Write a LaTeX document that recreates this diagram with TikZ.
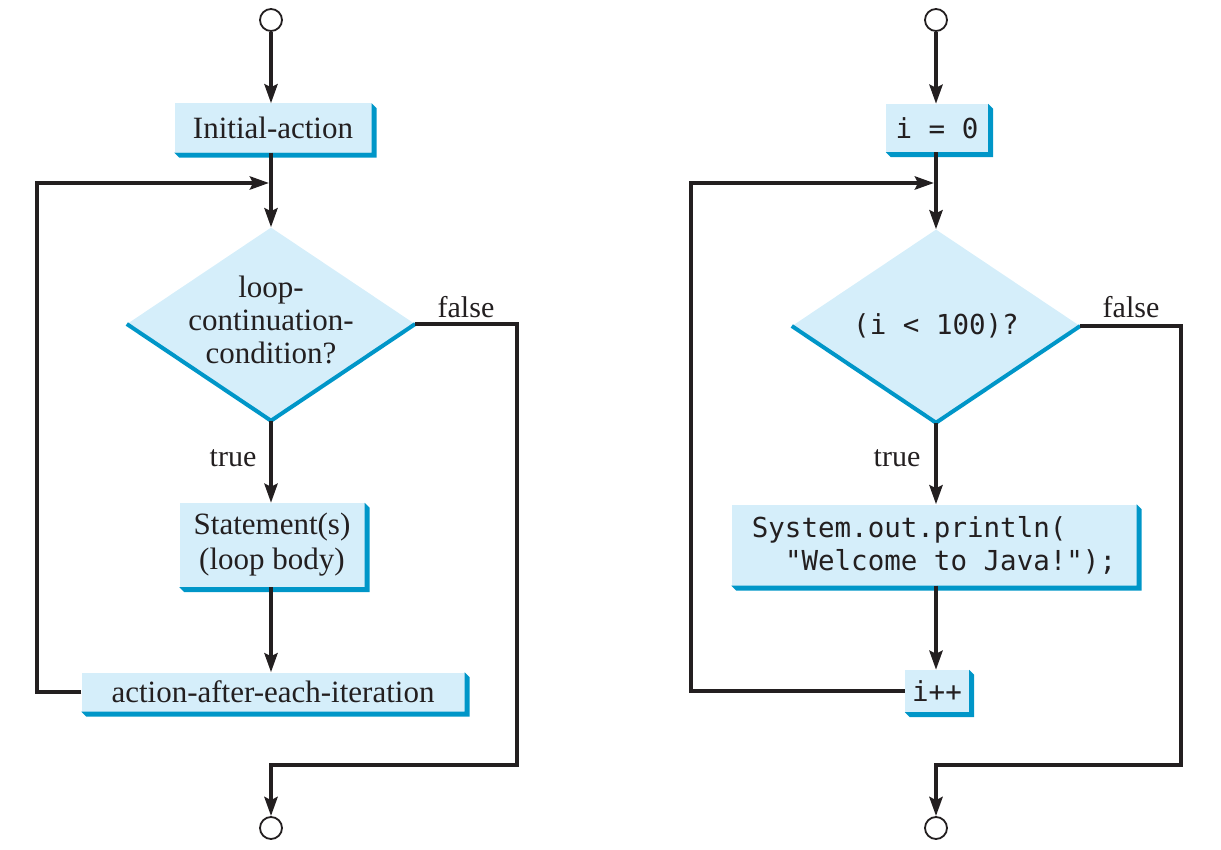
\documentclass[tikz,border=0pt]{standalone}
\usepackage{fontspec}
\setmainfont{Liberation Serif}
\setmonofont{DejaVu Sans Mono}
\usetikzlibrary{arrows.meta,shapes.geometric}
\definecolor{boxfill}{RGB}{213,238,250}
\definecolor{shadeblue}{RGB}{0,150,200}
\definecolor{ink}{RGB}{35,31,32}
\newcommand\boxshade[1]{%
  \fill[shadeblue] (#1.north east) -- ([shift={(5,5)}]#1.north east) -- ([shift={(5,5)}]#1.south east)
    -- ([shift={(5,5)}]#1.south west) -- (#1.south west) -- (#1.south east) -- cycle;}
\begin{document}
\begin{tikzpicture}[x=1pt,y=-1pt,
  every node/.style={text=ink},
  fbox/.style={rectangle,fill=boxfill,inner sep=0pt,align=center,font=\fontsize{31}{35}\selectfont},
  mbox/.style={rectangle,fill=boxfill,inner sep=0pt,align=center,font=\fontsize{27.5}{33}\ttfamily},
  dec/.style={diamond,fill=boxfill,inner sep=0pt,minimum width=288pt,minimum height=193pt},
  dtext/.style={align=center,inner sep=0pt},
  term/.style={circle,draw=ink,line width=1.8pt,minimum size=22pt,inner sep=0pt},
  arr/.style={draw=ink,line width=4pt,-{Stealth[length=19pt,width=13pt,inset=3pt]}},
  lab/.style={font=\fontsize{30}{34}\selectfont}]
\useasboundingbox (0,0) rectangle (1221,850);

% ---------- left flowchart ----------
\node[term] (s1) at (271,20) {};
\node[fbox,minimum width=197pt,minimum height=49pt] (init) at (273,128) {Initial-action};
\boxshade{init}
\node[dec] (d1) at (271,324) {};
\draw[shadeblue,line width=4pt] (d1.west) -- (d1.south) -- (d1.east);
\node[dtext,font=\fontsize{31}{33}\selectfont] (d1t) at (271,320) {loop-\\continuation-\\condition?};
\node[fbox,minimum width=185pt,minimum height=84pt] (stmt) at (272,545) {Statement(s)\\(loop body)};
\boxshade{stmt}
\node[fbox,minimum width=383pt,minimum height=39pt] (act) at (273,692) {action-after-each-iteration};
\boxshade{act}
\node[term] (e1) at (271,828) {};
\coordinate (j1) at (271,183);
\coordinate (lc1) at (37,183);
\coordinate (f1) at (517,765);
\node[lab] (t1) at (233,458) {true};
\node[lab] (fa1) at (466,307) {false};

\draw[arr] (s1.south) -- (init.north -| s1);
\draw[arr] (init.south -| s1) -- (d1.north);
\draw[arr,shorten >=2pt] (act.west) -| (lc1) -- (j1);
\draw[arr] (d1.south) -- (stmt.north -| d1);
\draw[arr] (stmt.south -| d1) -- (act.north -| d1);
\draw[arr] (d1.east) -| (f1) -| (e1.north);

% ---------- right flowchart ----------
\node[term] (s2) at (936,20) {};
\node[mbox,minimum width=102pt,minimum height=48pt] (i0) at (937,128) {i = 0};
\boxshade{i0}
\node[dec] (d2) at (936,326) {};
\draw[shadeblue,line width=4pt] (d2.west) -- (d2.south) -- (d2.east);
\node[dtext,font=\fontsize{27.5}{32}\ttfamily] (d2t) at (936,326) {(i < 100)?};
\node[mbox,align=left,minimum width=405pt,minimum height=81pt] (pr) at (934,545) {System.out.println(\\\ \ "Welcome to Java!");};
\boxshade{pr}
\node[mbox,minimum width=64pt,minimum height=42pt] (ipp) at (937,691) {i++};
\boxshade{ipp}
\node[term] (e2) at (936,828) {};
\coordinate (j2) at (936,183);
\coordinate (lc2) at (691,183);
\coordinate (f2) at (1181,765);
\node[lab] (t2) at (897,458) {true};
\node[lab] (fa2) at (1131,307) {false};

\draw[arr] (s2.south) -- (i0.north -| s2);
\draw[arr] (i0.south -| s2) -- (d2.north);
\draw[arr,shorten >=2pt] (ipp.west) -| (lc2) -- (j2);
\draw[arr] (d2.south) -- (pr.north -| d2);
\draw[arr] (pr.south -| d2) -- (ipp.north -| d2);
\draw[arr] (d2.east) -| (f2) -| (e2.north);
\end{tikzpicture}
\end{document}
